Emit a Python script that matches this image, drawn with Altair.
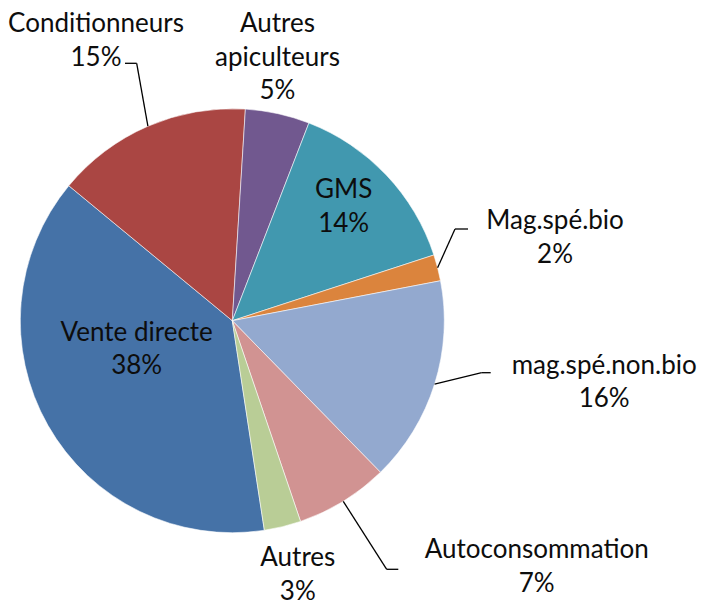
import math
import altair as alt
import pandas as pd

# ---- data ----
categories = ["Vente directe", "Conditionneurs", "Autres apiculteurs", "GMS",
              "Mag.spé.bio", "mag.spé.non.bio", "Autoconsommation", "Autres"]
shares = [38.4, 15.0, 4.9, 14.1, 2.0, 15.7, 7.1, 2.8]
label_names = ["Vente directe", "Conditionneurs", "Autres\napiculteurs", "GMS",
               "Mag.spé.bio", "mag.spé.non.bio", "Autoconsommation", "Autres"]
percent_labels = ["38%", "15%", "5%", "14%", "2%", "16%", "7%", "3%"]

# ---- styles ----
colors = ["#4572A7", "#AA4643", "#71588F", "#4198AF",
          "#DB843D", "#93A9CF", "#D19392", "#B9CD96"]

# ---- layout ----
CX, CY, R = 224.3, 312.7, 212
START_DEG = 171.3
label_radius = [96.4, 326.2, 299.8, 171.5, 337.7, 374.6, 381.3, 246.2]
label_angle_adj = [22.25, -1.24, -3.69, -6.05, -2.66, -10.52, -21.41, -1.69]
has_leader = [0, 1, 0, 0, 1, 1, 1, 0]
leader_dx = [0, -95.6, 0, 0, 222.7, 249.4, 154.4, 0]
leader_dy = [0, -257.4, 0, 0, -91.7, 52.0, 248.6, 0]
leader_len = [0, -11.7, 0, 0, 13.0, 9.0, 11.6, 0]

df = pd.DataFrame({
    "cat": categories,
    "v": shares,
    "order": list(range(len(categories))),
    "txt": [f"{n}\n{p}" for n, p in zip(label_names, percent_labels)],
    "lr": label_radius,
    "adj": label_angle_adj,
    "lead": has_leader,
    "ldx": leader_dx,
    "ldy": leader_dy,
    "llen": leader_len,
})

start = math.radians(START_DEG)

base = (
    alt.Chart(df)
    .transform_joinaggregate(total="sum(v)")
    .transform_window(cum="sum(v)", sort=[alt.SortField("order")], frame=[None, 0])
    .transform_calculate(mid=f"{start} + 2*PI*(datum.cum - datum.v/2)/datum.total")
    .transform_calculate(ta="datum.mid + datum.adj*PI/180")
)

pie = alt.Chart(df).mark_arc(
    outerRadius=R, stroke="white", strokeWidth=0.8, strokeOpacity=0.7
).encode(
    theta=alt.Theta("v:Q", stack=True,
                    scale=alt.Scale(range=[start, start + 2 * math.pi])),
    order=alt.Order("order:Q"),
    color=alt.Color("cat:N", scale=alt.Scale(domain=categories, range=colors), legend=None),
    x=alt.value(CX), y=alt.value(CY),
)

labels = base.mark_text(
    font="Lato", fontSize=26, lineBreak="\n", lineHeight=33.5,
    align="center", baseline="middle", color="#0d0d0d",
).encode(
    theta=alt.Theta("ta:Q", scale=None),
    radius=alt.Radius("lr:Q", scale=None),
    text="txt:N",
    x=alt.value(CX), y=alt.value(CY),
)

lead = base.transform_filter("datum.lead == 1").transform_calculate(
    ex=f"{CX} + {R}*sin(datum.mid)",
    ey=f"{CY} - {R}*cos(datum.mid)",
    bx=f"{CX} + datum.ldx",
    by=f"{CY} + datum.ldy",
    hx=f"{CX} + datum.ldx + datum.llen",
)

diag = lead.mark_rule(color="black", strokeWidth=1.3).encode(
    x=alt.X("ex:Q", scale=None), y=alt.Y("ey:Q", scale=None),
    x2="bx:Q", y2="by:Q",
)
horiz = lead.mark_rule(color="black", strokeWidth=1.3).encode(
    x=alt.X("bx:Q", scale=None), y=alt.Y("by:Q", scale=None),
    x2="hx:Q", y2="by:Q",
)

chart = (
    alt.layer(pie, diag, horiz, labels)
    .resolve_scale(theta="independent", radius="independent")
    .properties(width=690, height=594, padding=0,
                autosize=alt.AutoSizeParams(type="none"), background="white")
    .configure_view(stroke=None)
)

chart.save("out.html", embed_options={"renderer": "svg", "actions": False})
